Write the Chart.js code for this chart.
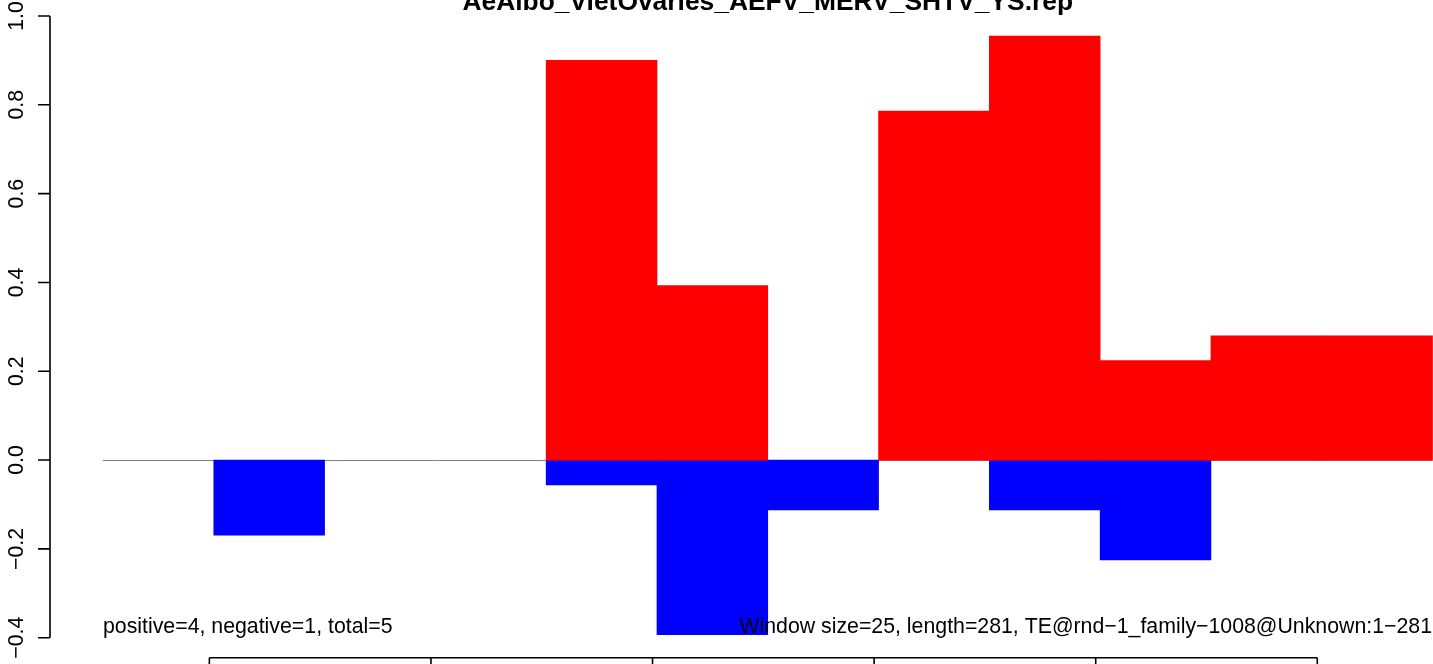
<!DOCTYPE html>
<html>
<head>
<meta charset="utf-8">
<script src="https://cdn.jsdelivr.net/npm/chart.js@4.4.0/dist/chart.umd.min.js"></script>
<style>
  html, body { margin: 0; padding: 0; background: #fff; }
  #wrap { width: 1433px; height: 664px; position: relative; }
</style>
</head>
<body>
<div id="wrap"><canvas id="repChart"></canvas></div>
<script>
// windows along the TE (size 25, length 281)
const windowStarts = [1, 26, 51, 76, 101, 126, 151, 176, 201, 226, 251, 276];
const windowSize = 25;
const positiveVals = [0, 0, 0, 0, 0.900, 0.393, 0, 0.786, 0.955, 0.224, 0.280, 0.280];
const negativeVals = [0, -0.169, 0, 0, -0.056, -0.393, -0.112, 0, -0.112, -0.225, 0, 0];
const yTicks = [-0.4, -0.2, 0, 0.2, 0.4, 0.6, 0.8, 1.0];
const yTickLabels = ['\u22120.4', '\u22120.2', '0.0', '0.2', '0.4', '0.6', '0.8', '1.0'];
const xTicks = [25, 75, 125, 175, 225, 275];
const titleText = 'AeAlbo_VietOvaries_AEFV_MERV_SHTV_YS.rep';
const leftNote = 'positive=4, negative=1, total=5';
const rightNote = 'Window size=25, length=281, TE@rnd\u22121_family\u22121008@Unknown:1\u2212281';

const FONT = '"Liberation Sans", Arial, Helvetica, sans-serif';

// zero values are simply not drawn
const toPoints = vals => vals.map((v, i) => ({ x: windowStarts[i] + windowSize / 2, y: v === 0 ? null : v }));

// R style axes, title and notes
const rAxes = {
  id: 'rAxes',
  beforeDatasetsDraw(chart) {
    const { ctx, scales: { x, y } } = chart;
    const first = windowStarts[0];
    const last = windowStarts[windowStarts.length - 1] + windowSize;
    const y0 = Math.round(y.getPixelForValue(0)) + 0.5;
    ctx.save();
    ctx.strokeStyle = '#808080';
    ctx.lineWidth = 1;
    ctx.beginPath();
    ctx.moveTo(x.getPixelForValue(first), y0);
    ctx.lineTo(x.getPixelForValue(last), y0);
    ctx.stroke();
    ctx.restore();
  },
  afterDraw(chart) {
    const { ctx, chartArea, scales: { x, y } } = chart;
    ctx.save();
    ctx.strokeStyle = '#000';
    ctx.fillStyle = '#000';
    ctx.lineWidth = 1.6;

    // y axis
    const ax = chartArea.left;
    ctx.beginPath();
    ctx.moveTo(ax, y.getPixelForValue(yTicks[0]));
    ctx.lineTo(ax, y.getPixelForValue(yTicks[yTicks.length - 1]));
    yTicks.forEach(v => {
      const py = y.getPixelForValue(v);
      ctx.moveTo(ax - 12, py);
      ctx.lineTo(ax, py);
    });
    ctx.stroke();

    ctx.font = '21.3px ' + FONT;
    ctx.textAlign = 'center';
    ctx.textBaseline = 'alphabetic';
    yTicks.forEach((v, i) => {
      ctx.save();
      ctx.translate(ax - 27, y.getPixelForValue(v));
      ctx.rotate(-Math.PI / 2);
      ctx.fillText(yTickLabels[i], 0, 0);
      ctx.restore();
    });

    // x axis (labels fall off the bottom)
    const axY = chartArea.bottom + 20;
    ctx.beginPath();
    ctx.moveTo(x.getPixelForValue(xTicks[0]), axY);
    ctx.lineTo(x.getPixelForValue(xTicks[xTicks.length - 1]), axY);
    xTicks.forEach(v => {
      const px = x.getPixelForValue(v);
      ctx.moveTo(px, axY);
      ctx.lineTo(px, axY + 12);
    });
    ctx.stroke();

    // notes
    const noteY = 633;
    ctx.textAlign = 'left';
    ctx.fillText(leftNote, x.getPixelForValue(windowStarts[0]), noteY);
    ctx.textAlign = 'right';
    ctx.fillText(rightNote, chartArea.right - 1, noteY);

    // title
    const mid = (windowStarts[0] + windowStarts[windowStarts.length - 1] + windowSize) / 2;
    ctx.font = 'bold 26.4px ' + FONT;
    ctx.textAlign = 'center';
    ctx.fillText(titleText, x.getPixelForValue(mid), 10);
    ctx.restore();
  }
};

new Chart(document.getElementById('repChart'), {
  type: 'bar',
  data: {
    datasets: [
      {
        label: 'positive',
        data: toPoints(positiveVals),
        backgroundColor: '#ff0000',
        borderWidth: 0,
        grouped: false,
        barPercentage: 1,
        categoryPercentage: 1
      },
      {
        label: 'negative',
        data: toPoints(negativeVals),
        backgroundColor: '#0000ff',
        borderWidth: 0,
        grouped: false,
        barPercentage: 1,
        categoryPercentage: 1
      }
    ]
  },
  options: {
    responsive: true,
    maintainAspectRatio: false,
    devicePixelRatio: 1,
    animation: false,
    layout: { padding: { left: 50, right: 0, top: 16, bottom: 26.3 } },
    plugins: {
      legend: { display: false },
      tooltip: { enabled: false },
      title: { display: false }
    },
    scales: {
      x: {
        type: 'linear',
        display: false,
        offset: false,
        min: -10.96,
        max: 301.11
      },
      y: {
        display: false,
        min: -0.4,
        max: 1.0
      }
    }
  },
  plugins: [rAxes]
});
</script>
</body>
</html>
